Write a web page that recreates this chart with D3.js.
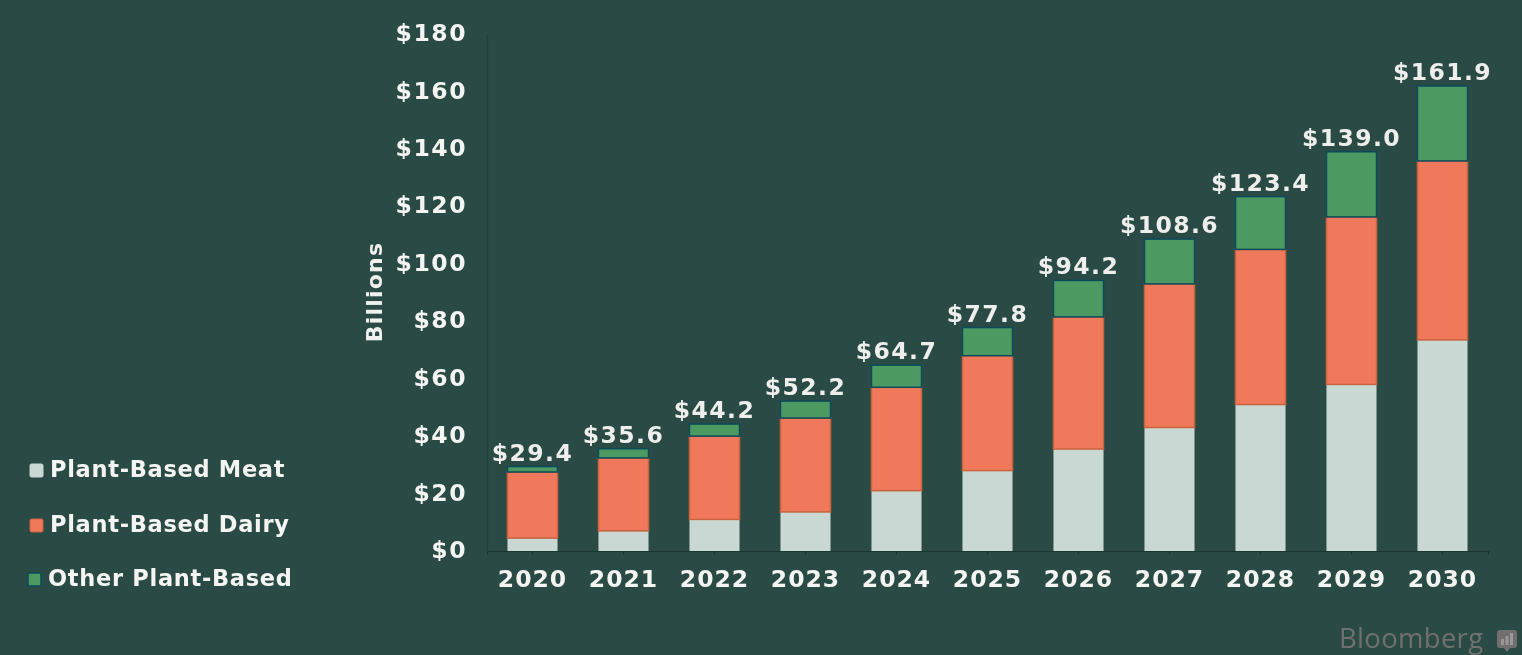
<!DOCTYPE html>
<html><head><meta charset="utf-8">
<script src="https://cdn.jsdelivr.net/npm/d3@7"></script>
<style>
html,body{margin:0;padding:0;background:#2a4b45;overflow:hidden}
svg{display:block;filter:blur(0.6px)}
text{font-family:"DejaVu Sans",sans-serif;font-weight:700}
</style></head><body><svg id="c" width="1522" height="655"></svg>
<script>
const years=[2020,2021,2022,2023,2024,2025,2026,2027,2028,2029,2030];
const meat=[4.5,7,11,13.6,21,28,35.5,43,51,58,73.5];
const dairy=[23,25.4,29,32.7,36,40,46,50,54,58.3,62.3];
const other=[1.9,3.2,4.2,5.9,7.7,9.8,12.7,15.6,18.4,22.7,26.1];
const totals=["$29.4","$35.6","$44.2","$52.2","$64.7","$77.8","$94.2","$108.6","$123.4","$139.0","$161.9"];
const yTicks=[0,20,40,60,80,100,120,140,160,180];
const seriesNames=["Plant-Based Meat","Plant-Based Dairy","Other Plant-Based"];
const colors=["#c9d8d3","#f0795b","#4c9a62"];
const strokes=["#c9d8d3","#c9623f","#0d4a5c"];

const svg=d3.select("#c");
const x=d3.scaleBand().domain(years).range([487,1488]).paddingInner(0.45).paddingOuter(0.225);
const y=d3.scaleLinear().domain([0,180]).range([551,34]);
const stacked=d3.stack().keys([0,1,2]).value((d,k)=>d[k])(years.map((_,i)=>[meat[i],dairy[i],other[i]]));

const xAxis=d3.axisBottom(x).tickSize(4).tickPadding(15);
const yAxis=d3.axisLeft(y).tickValues(yTicks).tickSize(0).tickPadding(20).tickFormat(d=>"$"+d);
const gx=svg.append("g").attr("transform","translate(0,551)").call(xAxis);
const gy=svg.append("g").attr("transform","translate(487,0)").call(yAxis);
gx.selectAll("path,line").attr("stroke","#1d3531").attr("stroke-width",1.2);
gy.select("path").attr("stroke","#24403b").attr("stroke-width",1.2);
gx.selectAll("text").attr("fill","#f4f4f2").attr("font-size",23.5).attr("font-family",'"DejaVu Sans"').style("letter-spacing","1px");
gy.selectAll("text").attr("fill","#f4f4f2").attr("font-size",23.5).attr("font-family",'"DejaVu Sans"').style("letter-spacing","1.5px").attr("dy","0.28em");

stacked.forEach((s,k)=>{
  svg.append("g").selectAll("rect").data(s).join("rect")
    .attr("x",(d,i)=>x(years[i])).attr("width",x.bandwidth())
    .attr("y",d=>y(d[1])).attr("height",d=>y(d[0])-y(d[1]))
    .attr("fill",colors[k]).attr("stroke",strokes[k]).attr("stroke-width",k==0?0:1.5);
});
svg.append("g").selectAll("text").data(totals).join("text")
  .attr("x",(d,i)=>x(years[i])+x.bandwidth()/2)
  .attr("y",(d,i)=>y(meat[i]+dairy[i]+other[i])-6)
  .attr("text-anchor","middle").attr("font-size",23.5).attr("fill","#eeeeec").style("letter-spacing","1.4px").text(d=>d);

svg.append("text").attr("transform","translate(382,292) rotate(-90)").attr("text-anchor","middle")
  .attr("font-size",22).attr("fill","#f0f0ee").style("letter-spacing","1.2px").text("Billions");

const legY=[470,525,579], legX=[30,30,28], txtX=[50,50,48];
seriesNames.forEach((n,i)=>{
  svg.append("rect").attr("x",legX[i]).attr("y",legY[i]-6).attr("width",13).attr("height",13).attr("rx",1.5)
    .attr("fill",colors[i]).attr("stroke",strokes[i]).attr("stroke-width",i==2?1.5:1);
  svg.append("text").attr("x",txtX[i]).attr("y",legY[i]+7).attr("font-size",22.5).attr("fill","#f4f4f2").style("letter-spacing","0.7px").text(n);
});
svg.append("text").attr("x",1339).attr("y",648).attr("font-size",27.5).attr("fill","#716f6f")
  .style("font-family","'Open Sans',sans-serif").style("font-weight",400).style("letter-spacing","0.3px").text("Bloomberg");
const logo=svg.append("g").attr("transform","translate(1497,630)");
logo.append("path").attr("d","M3 0H17Q20 0 20 3V15Q20 18 17 18H13L10 22L7 18H3Q0 18 0 15V3Q0 0 3 0Z").attr("fill","#716f6f");
logo.selectAll("rect").data([[4,9,3,6],[8.5,6,3,9],[13,3,3,12]]).join("rect")
  .attr("x",d=>d[0]).attr("y",d=>d[1]).attr("width",d=>d[2]).attr("height",d=>d[3]).attr("fill","#9a9897");
</script></body></html>
